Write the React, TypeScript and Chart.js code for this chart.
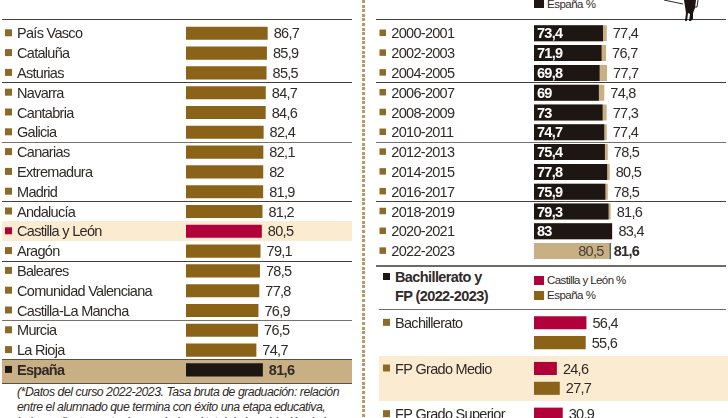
import React, { useEffect, useRef } from "react";
import { Chart, registerables } from "chart.js";

Chart.register(...registerables);

const regions = ["País Vasco","Cataluña","Asturias","Navarra","Cantabria","Galicia","Canarias","Extremadura","Madrid","Andalucía","Castilla y León","Aragón","Baleares","Comunidad Valenciana","Castilla-La Mancha","Murcia","La Rioja","España"];
const regionRates = [86.7,85.9,85.5,84.7,84.6,82.4,82.1,82,81.9,81.2,80.5,79.1,78.5,77.8,76.9,76.5,74.7,81.6];
const years = ["2000-2001","2002-2003","2004-2005","2006-2007","2008-2009","2010-2011","2012-2013","2014-2015","2016-2017","2018-2019","2020-2021","2022-2023"];
const espanaYears = [73.4,71.9,69.8,69,73,74.7,75.4,77.8,75.9,79.3,83,81.6];
const cylYears = [77.4,76.7,77.7,74.8,77.3,77.4,78.5,80.5,78.5,81.6,83.4,80.5];
const levels = ["Bachillerato","FP Grado Medio","FP Grado Superior"];
const cylLevels = [56.4,24.6,30.9];
const espanaLevels = [55.6,27.7,33];

const BROWN = "#8A6319";
const MARK = "#8E6A28";
const RED = "#B1003A";
const BLACK = "#1E1613";
const TAN = "#C9AF84";
const CREAM = "#FBEBD0";
const TEXT = "#2F2A27";
const FONT = "'Liberation Sans', Arial, sans-serif";
const SPACING = "-0.7px";
const SIZE = 14.5;
const TEXT_DROP = 1;

const fmt = (v: number) => String(v).replace(".", ",");

const spacingPlugin = {
  id: "spacing",
  beforeDraw(chart: any) {
    chart.ctx.letterSpacing = SPACING;
  },
};

function marks(chart: any, x: number, w: number, colorAt: (i: number) => string, shift = 0) {
  const { ctx, scales } = chart;
  ctx.save();
  chart.data.labels.forEach((_: string, i: number) => {
    const y = scales.y.getPixelForValue(i) + shift;
    ctx.fillStyle = colorAt(i);
    ctx.fillRect(x, y - w / 2 - 0.5, w, w);
  });
  ctx.restore();
}

function valueText(ctx: any, s: string, x: number, y: number, opts: any = {}) {
  ctx.save();
  ctx.font = `${opts.bold ? "bold " : ""}${SIZE}px ${FONT}`;
  ctx.fillStyle = opts.color || TEXT;
  ctx.textAlign = opts.align || "left";
  ctx.textBaseline = "middle";
  ctx.fillText(s, x, y + TEXT_DROP);
  ctx.restore();
}

const leftPlugin = {
  id: "leftValues",
  afterDraw(chart: any) {
    const { ctx, scales } = chart;
    marks(chart, 5, 7, (i) => (i === 10 ? RED : i === 17 ? BLACK : MARK));
    regionRates.forEach((v, i) => {
      const x = scales.x.getPixelForValue(v);
      valueText(ctx, fmt(v), x + 6, scales.y.getPixelForValue(i), { bold: i === 17 });
    });
  },
};

const yearsPlugin = {
  id: "yearValues",
  afterDraw(chart: any) {
    const { ctx, scales } = chart;
    marks(chart, 15.5, 6.5, () => MARK);
    years.forEach((_, i) => {
      const y = scales.y.getPixelForValue(i);
      const c = cylYears[i];
      const e = espanaYears[i];
      if (e > c) {
        valueText(ctx, fmt(c), scales.x.getPixelForValue(c) - 6, y, { align: "right", color: "#4A4038" });
        valueText(ctx, fmt(e), scales.x.getPixelForValue(e) + 3, y, { bold: true });
      } else {
        valueText(ctx, fmt(e), scales.x.getPixelForValue(0) + 3, y, { bold: true, color: "#FFFFFF" });
        valueText(ctx, fmt(c), scales.x.getPixelForValue(c) + 6, y);
      }
    });
  },
};

const levelsPlugin = {
  id: "levelValues",
  afterDraw(chart: any) {
    const { ctx, scales } = chart;
    marks(chart, 19, 7, () => MARK, -9.9);
    levels.forEach((_, i) => {
      const y = scales.y.getPixelForValue(i);
      valueText(ctx, fmt(cylLevels[i]), scales.x.getPixelForValue(cylLevels[i]) + 6, y - 9.9);
      valueText(ctx, fmt(espanaLevels[i]), scales.x.getPixelForValue(espanaLevels[i]) + 6, y + 9.9);
    });
  },
};

function baseOptions(labelWidth: number, padding: any, tickExtra: any = {}) {
  return {
    responsive: false,
    animation: false as const,
    indexAxis: "y" as const,
    layout: { padding },
    plugins: { legend: { display: false }, tooltip: { enabled: false } },
    scales: {
      x: { display: false, min: 0, max: 100 },
      y: {
        grid: { display: false, drawTicks: false },
        border: { display: false },
        afterFit(s: any) {
          s.width = labelWidth;
          s.paddingTop = 0;
          s.paddingBottom = 0;
        },
        ticks: {
          crossAlign: "far" as const,
          autoSkip: false,
          padding: 0,
          labelOffset: TEXT_DROP,
          color: TEXT,
          font: { family: FONT, size: SIZE },
          ...tickExtra,
        },
      },
    },
  };
}

function useChart(ref: React.RefObject<HTMLCanvasElement | null>, make: () => any) {
  useEffect(() => {
    const chart = new Chart(ref.current as HTMLCanvasElement, make());
    return () => chart.destroy();
  }, []);
}

const abs = (left: number, top: number, extra: React.CSSProperties = {}): React.CSSProperties => ({
  position: "absolute",
  left,
  top,
  ...extra,
});

function Rule({ x, y, w, color = "#45403C", h = 1 }: { x: number; y: number; w: number; color?: string; h?: number }) {
  return <div style={abs(x, y, { width: w, height: h, background: color })} />;
}

function Label({ x, y, size = 12, bold = false, italic = false, spacing = -0.2, children }: any) {
  return (
    <div
      style={abs(x, y, {
        font: `${italic ? "italic " : ""}${bold ? "bold " : ""}${size}px ${FONT}`,
        lineHeight: `${size + 2}px`,
        color: TEXT,
        whiteSpace: "nowrap",
        letterSpacing: `${spacing}px`,
      })}
    >
      {children}
    </div>
  );
}

function Box({ x, y, w, h, color }: { x: number; y: number; w: number; h: number; color: string }) {
  return <div style={abs(x, y, { width: w, height: h, background: color })} />;
}

export default function App() {
  const leftRef = useRef<HTMLCanvasElement>(null);
  const yearsRef = useRef<HTMLCanvasElement>(null);
  const levelsRef = useRef<HTMLCanvasElement>(null);

  useChart(leftRef, () => ({
    type: "bar",
    data: {
      labels: regions,
      datasets: [
        {
          data: regionRates,
          backgroundColor: (c: any) => (c.dataIndex === 10 ? RED : c.dataIndex === 17 ? BLACK : BROWN),
          barPercentage: 0.66,
          categoryPercentage: 1,
        },
      ],
    },
    options: baseOptions(169, { left: 17, right: 79.8, top: 3.4, bottom: 4.2 }, {
      font: (c: any) => ({ family: FONT, size: SIZE, weight: c.index === 17 ? "bold" : "normal" }),
    }),
    plugins: [spacingPlugin, leftPlugin],
  }));

  useChart(yearsRef, () => ({
    type: "bar",
    data: {
      labels: years,
      datasets: [
        { data: cylYears, backgroundColor: TAN, grouped: false, barPercentage: 0.81, categoryPercentage: 1, order: 2 },
        {
          data: espanaYears.map((v, i) => (v > cylYears[i] ? [cylYears[i], v] : v)),
          backgroundColor: BLACK,
          grouped: false,
          barPercentage: 0.81,
          categoryPercentage: 1,
          order: 1,
        },
      ],
    },
    options: baseOptions(142.7, { left: 27.3, right: 100, top: 3.4, bottom: 4 }),
    plugins: [spacingPlugin, yearsPlugin],
  }));

  useChart(levelsRef, () => ({
    type: "bar",
    data: {
      labels: levels,
      datasets: [
        { data: cylLevels, backgroundColor: RED, barPercentage: 0.66, categoryPercentage: 0.868 },
        { data: espanaLevels, backgroundColor: BROWN, barPercentage: 0.66, categoryPercentage: 0.868 },
      ],
    },
    options: baseOptions(139, { left: 31, right: 101, top: 4.9, bottom: 3.1 }, { labelOffset: -9.9 + TEXT_DROP }),
    plugins: [spacingPlugin, levelsPlugin],
  }));

  return (
    <div style={abs(0, 0, { width: 728, height: 418, overflow: "hidden", background: "#fff" })}>
      <Box x={2} y={221} w={350} h={20} color={CREAM} />
      <Box x={2} y={360} w={350} h={23} color={TAN} />
      <Box x={379} y={356} w={349} h={45} color={CREAM} />
      <div
        style={abs(362, 0, {
          width: 2.5,
          height: 418,
          background: "repeating-linear-gradient(to bottom,#B89A6A 0 3px,transparent 3px 4.6px)",
        })}
      />
      {[19, 82, 142, 201, 261, 320].map((y) => (
        <Rule key={y} x={2} y={y} w={350} color={y === 142 || y === 320 ? "#77726E" : "#45403C"} />
      ))}
      <Rule x={2} y={359} w={350} color="#5A5044" />
      <Rule x={2} y={383} w={350} color="#5A5044" />
      {[19, 82, 142, 201].map((y) => (
        <Rule key={y} x={376} y={y} w={350} color={y === 142 ? "#77726E" : "#45403C"} />
      ))}
      <Rule x={376} y={265} w={350} color="#6E6A66" h={1.5} />
      <Rule x={379} y={309} w={347} color="#6E6A66" />

      <canvas ref={leftRef} width={360} height={364} style={abs(0, 20)} />
      <canvas ref={yearsRef} width={364} height={245} style={abs(364, 20)} />
      <canvas ref={levelsRef} width={364} height={145} style={abs(364, 305)} />

      <Box x={534} y={0} w={10} h={8} color={BLACK} />
      <Label x={547} y={-2} size={11.5} spacing={-0.5}>España %</Label>

      <svg width={46} height={24} style={abs(660, 0)}>
        <path d="M4 0 L23 4 M38 0 L37 7 L32 7" stroke="#2a2522" strokeWidth={1} fill="none" />
        <path d="M24 0 H36 L35 8 L33 13 L33 19 L31 21 H29 L30 14 L28 13 L27 21 H25 L26 13 Z" fill="#1a1412" />
      </svg>

      <Box x={383} y={273} w={7} h={7} color={BLACK} />
      <Label x={395} y={269} size={14.5} bold spacing={-0.6}>Bachillerato y</Label>
      <Label x={395} y={288} size={14.5} bold spacing={-0.6}>FP (2022-2023)</Label>
      <Box x={534} y={276} w={10} h={9} color={RED} />
      <Label x={547} y={274} size={11.5} spacing={-0.6}>Castilla y León %</Label>
      <Box x={534} y={291} w={10} h={9} color={BROWN} />
      <Label x={547} y={289} size={11.5} spacing={-0.5}>España %</Label>

      <Label x={17} y={385} size={12.3} italic spacing={-0.48}>(*Datos del curso 2022-2023. Tasa bruta de graduación: relación</Label>
      <Label x={17} y={400} size={12.3} italic spacing={-0.48}>entre el alumnado que termina con éxito una etapa educativa,</Label>
      <Label x={17} y={415} size={12.3} italic spacing={-0.48}>independientemente de su edad, y el total de la población de la</Label>
    </div>
  );
}
